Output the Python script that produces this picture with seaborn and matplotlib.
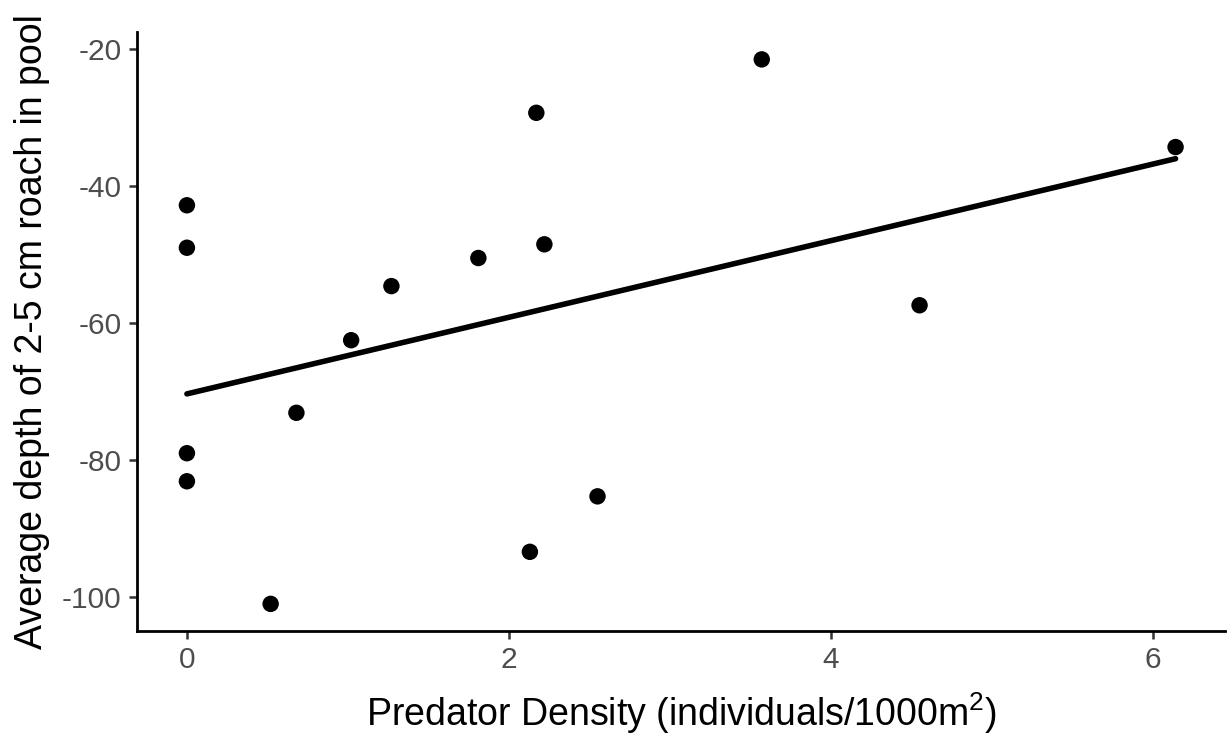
import matplotlib
matplotlib.use("Agg")
import matplotlib.pyplot as plt
import seaborn as sns
import pandas as pd

predator_density = [6.14, 3.57, 2.17, 0.0, 0.0, 2.22, 1.81, 1.27, 1.02, 4.55, 0.68, 0.0, 0.0, 2.55, 2.13, 0.52]
avg_depth = [-34.3, -21.5, -29.3, -42.8, -49.0, -48.5, -50.5, -54.6, -62.5, -57.4, -73.1, -79.0, -83.1, -85.3, -93.4, -101.0]
x_ticks = [0, 2, 4, 6]
y_ticks = [-100, -80, -60, -40, -20]

df = pd.DataFrame({"density": predator_density, "depth": avg_depth})

sns.set_style("white")
plt.rcParams["font.family"] = ["Liberation Sans", "DejaVu Sans"]
plt.rcParams["mathtext.default"] = "regular"

fig = plt.figure(figsize=(12.28, 7.40), dpi=100)
ax = fig.add_axes([137/1228, (740-631)/740, (1225-137)/1228, (631-32)/740])

sns.regplot(data=df, x="density", y="depth", ax=ax, ci=None, truncate=True,
            scatter_kws=dict(s=140, color="black", edgecolor="none", alpha=1, zorder=3),
            line_kws=dict(color="black", lw=4.0, zorder=2))

ax.set_xlim(-0.31, 6.447)
ax.set_ylim(-104.96, -17.5)
ax.set_xticks(x_ticks)
ax.set_yticks(y_ticks)
ax.set_xticklabels([str(t) for t in x_ticks])
ax.set_yticklabels([str(t) for t in y_ticks])

for s in ["top", "right"]:
    ax.spines[s].set_visible(False)
for s in ["left", "bottom"]:
    ax.spines[s].set_color("black")
    ax.spines[s].set_linewidth(2.0)

ax.tick_params(axis="both", which="major", length=6, width=1.8, color="#333333",
               labelsize=21.5, labelcolor="#4D4D4D", direction="out", pad=5,
               bottom=True, left=True)

ax.set_xlabel(r"Predator Density (individuals/1000m$^{2}$)", fontsize=27, color="black")
ax.set_ylabel("Average depth of 2-5 cm roach in pool", fontsize=27, color="black")
ax.xaxis.set_label_coords(0.5, -0.099)
ax.yaxis.set_label_coords(-0.08, 0.5)

fig.savefig("out.png", dpi=100)
